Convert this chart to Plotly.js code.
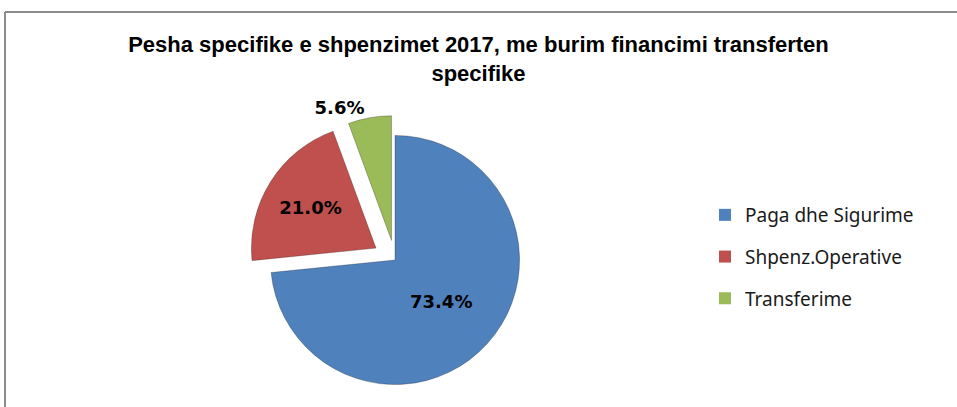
<!DOCTYPE html>
<html>
<head>
<meta charset="utf-8">
<script src="https://cdn.plot.ly/plotly-3.0.1.min.js"></script>
<style>
html,body{margin:0;padding:0;background:#fff;}
#chart{width:957px;height:407px;}
</style>
</head>
<body>
<div id="chart"></div>
<script>
const categories = ["Paga dhe Sigurime", "Shpenz.Operative", "Transferime"];
const values = [73.4, 21.0, 5.6];
const colors = ["#4F81BD", "#C0504D", "#9BBB59"];
const pulls = [0, 0.18, 0.16];
const textPositions = ["inside", "inside", "outside"];
const titleText = "Pesha specifike e shpenzimet 2017, me burim financimi transferten<br>specifike";

const W = 957, H = 407;
const px = v => v / W;
const py = v => 1 - v / H;

const pieTrace = {
  type: "pie",
  labels: categories,
  values: values,
  sort: false,
  direction: "clockwise",
  rotation: 0,
  pull: pulls,
  showlegend: false,
  marker: { colors: colors, line: { color: "rgba(0,0,0,0.25)", width: 1 } },
  texttemplate: "%{percent:.1%}",
  textposition: textPositions,
  insidetextorientation: "horizontal",
  textfont: { family: "DejaVu Sans, Noto Sans, sans-serif", size: 18, color: "#000000", weight: "bold" },
  outsidetextfont: { family: "DejaVu Sans, Noto Sans, sans-serif", size: 18, color: "#000000", weight: "bold" },
  hoverinfo: "label+percent",
  domain: { x: [px(248), px(542)], y: [py(407), py(113)] }
};

// legend entries (no plotted points) so the legend spacing can match
const legendTraces = categories.map((name, i) => ({
  type: "scatter",
  mode: "markers",
  x: [null],
  y: [null],
  name: name,
  legendgroup: "g" + i,
  marker: { symbol: "square", size: 12, color: colors[i] },
  hoverinfo: "skip"
}));

const layout = {
  width: W,
  height: H,
  margin: { l: 0, r: 0, t: 0, b: 0 },
  paper_bgcolor: "#ffffff",
  plot_bgcolor: "rgba(0,0,0,0)",
  showlegend: true,
  xaxis: { visible: false, domain: [0.99, 1] },
  yaxis: { visible: false, domain: [0.99, 1] },
  title: {
    text: titleText,
    x: 0.5,
    xanchor: "center",
    y: py(52),
    yanchor: "top",
    font: { family: "Liberation Sans, Arial, sans-serif", size: 22, color: "#000000", weight: "bold" }
  },
  legend: {
    x: px(705),
    y: py(196),
    xanchor: "left",
    yanchor: "top",
    tracegroupgap: 14,
    itemwidth: 30,
    font: { family: "Noto Sans, Open Sans, sans-serif", size: 19, color: "#1a1a1a" },
    bgcolor: "rgba(0,0,0,0)"
  },
  shapes: [
    { type: "line", xref: "paper", yref: "paper", x0: px(5), x1: px(957), y0: py(12), y1: py(12), line: { color: "#8c8c8c", width: 2 } },
    { type: "line", xref: "paper", yref: "paper", x0: px(5), x1: px(5), y0: py(12), y1: py(407), line: { color: "#8c8c8c", width: 2 } }
  ]
};

Plotly.newPlot("chart", [pieTrace].concat(legendTraces), layout, { displayModeBar: false, staticPlot: true });
</script>
</body>
</html>
